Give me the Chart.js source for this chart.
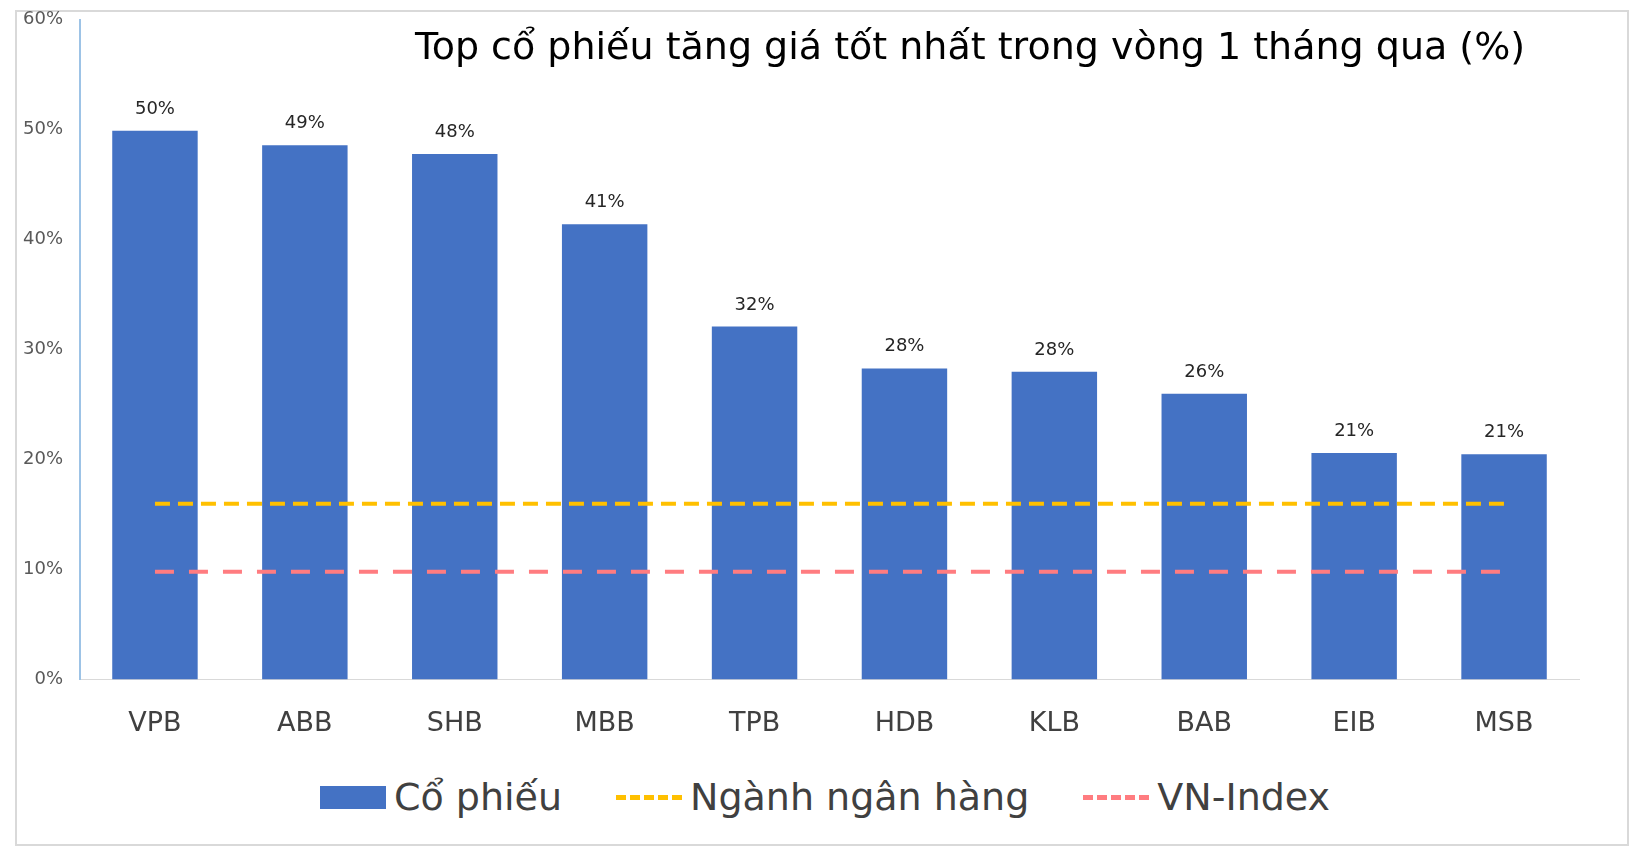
<!DOCTYPE html>
<html><head><meta charset="utf-8">
<script src="https://cdn.jsdelivr.net/npm/chart.js@4"></script>
<style>
body{margin:0;background:#fff;font-family:"DejaVu Sans",sans-serif}
#box{position:absolute;left:15px;top:10px;width:1614px;height:836px;border:2px solid #d9d9d9;box-sizing:border-box}
#wrap{position:absolute;left:0;top:0;width:1639px;height:760px}
#title{position:absolute;left:320px;width:1300px;top:24px;text-align:center;font-size:38px;color:#000}
#legend{position:absolute;top:775px;left:0;width:1650px;display:flex;justify-content:center;gap:54px;font-size:38px;color:#404040;align-items:center}
.it{display:flex;align-items:center;gap:8px}
</style></head><body>
<div id="box"></div>
<div id="wrap"><canvas id="c"></canvas></div>
<div id="title">Top cổ phiếu tăng giá tốt nhất trong vòng 1 tháng qua (%)</div>
<div id="legend">
<div class="it"><span style="display:inline-block;width:66px;height:23px;background:#4472c4"></span>Cổ phiếu</div>
<div class="it"><span style="display:inline-block;width:66px;border-top:5px dashed #ffc000"></span>Ngành ngân hàng</div>
<div class="it"><span style="display:inline-block;width:66px;border-top:5px dashed #ff7c80"></span>VN-Index</div>
</div>
<script>
const categories = ['VPB','ABB','SHB','MBB','TPB','HDB','KLB','BAB','EIB','MSB'];
const stockGain = [49.9, 48.6, 47.8, 41.4, 32.1, 28.3, 28.0, 26.0, 20.6, 20.5];
const bankSector = [16,16,16,16,16,16,16,16,16,16];
const vnIndex = [9.8,9.8,9.8,9.8,9.8,9.8,9.8,9.8,9.8,9.8];

const labelPlugin = {
  id: 'lbl',
  afterDatasetsDraw(chart) {
    const ctx = chart.ctx;
    const meta = chart.getDatasetMeta(2);
    ctx.save();
    ctx.font = '18px "DejaVu Sans"';
    ctx.fillStyle = '#262626';
    ctx.textAlign = 'center';
    meta.data.forEach((b, i) => {
      ctx.fillText(Math.round(stockGain[i]) + '%', b.x, b.y - 17);
    });
    ctx.restore();
  }
};

new Chart(document.getElementById('c'), {
  data: {
    labels: categories,
    datasets: [
      { type: 'line', label: 'Ngành ngân hàng', data: bankSector, borderColor: '#ffc000', borderWidth: 4, borderDash: [15, 8], pointRadius: 0, order: 0 },
      { type: 'line', label: 'VN-Index', data: vnIndex, borderColor: '#ff7c80', borderWidth: 4, borderDash: [19, 15], pointRadius: 0, order: 0 },
      { type: 'bar', label: 'Cổ phiếu', data: stockGain, backgroundColor: '#4472c4', categoryPercentage: 0.57, barPercentage: 1, order: 1 }
    ]
  },
  options: {
    responsive: true, maintainAspectRatio: false, animation: false,
    layout: { padding: { left: 14, right: 60, top: 14, bottom: 0 } },
    plugins: { legend: { display: false }, tooltip: { enabled: false } },
    scales: {
      x: { grid: { display: false }, border: { color: '#d9d9d9' },
           ticks: { font: { size: 27, family: 'DejaVu Sans' }, color: '#404040', padding: 20 } },
      y: { min: 0, max: 60, grid: { display: false }, border: { color: '#9dc3e6', width: 2 },
           ticks: { stepSize: 10, callback: v => v + '%', font: { size: 18, family: 'DejaVu Sans' }, color: '#595959', padding: 9 } }
    }
  },
  plugins: [labelPlugin]
});
</script>
</body></html>
